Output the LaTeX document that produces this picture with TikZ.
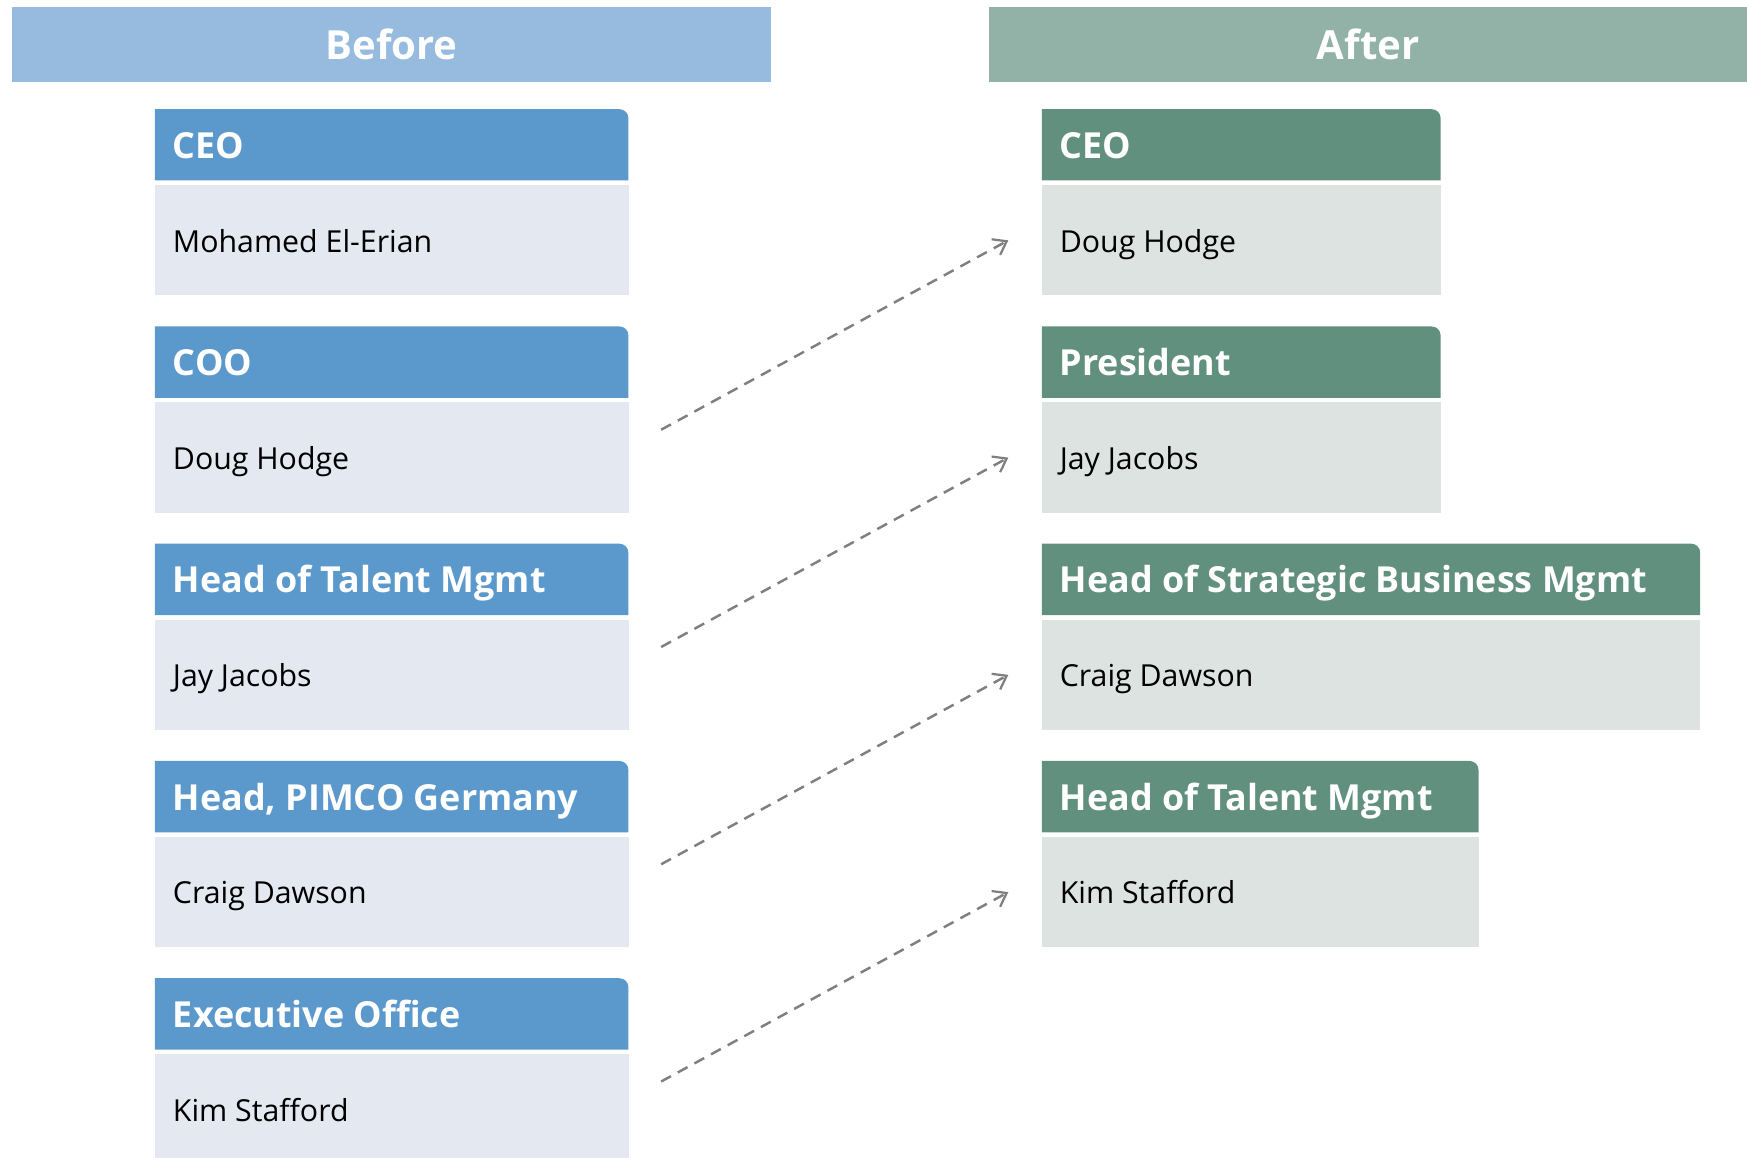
\documentclass[tikz,border=0pt]{standalone}
\usepackage{fontspec}
\setmainfont{Open Sans}
\usetikzlibrary{calc,positioning,arrows.meta}

\definecolor{beforehead}{HTML}{96BBDF}
\definecolor{beforebar}{HTML}{5B98CB}
\definecolor{beforebody}{HTML}{E3E8F1}
\definecolor{afterhead}{HTML}{92B2A7}
\definecolor{afterbar}{HTML}{62907F}
\definecolor{afterbody}{HTML}{DDE3E1}
\definecolor{movegray}{HTML}{7F7F7F}

\tikzset{
  header/.style={minimum height=68pt, inner sep=0pt, text=white,
    font=\fontsize{36}{42}\selectfont\bfseries},
  cardbody/.style={minimum height=99pt, inner sep=0pt},
  roletext/.style={inner sep=0pt, text=white,
    font=\fontsize{32.2}{38}\selectfont\bfseries},
  persontext/.style={inner sep=0pt, font=\fontsize{27.2}{33}\selectfont},
  move/.style={movegray, line width=2.2pt, dash pattern=on 10pt off 7pt,
    -{Straight Barb[length=11pt, width=16pt, line width=2pt]}}
}

% #1 name, #2 left, #3 top, #4 width, #5 colour set, #6 role, #7 person
\newcommand{\OrgCard}[7]{%
  \fill[#5bar] (#2,#3-64) -- (#2,#3) -- (#2+#4-8,#3)
    arc[start angle=90, end angle=0, radius=8] -- (#2+#4,#3-64) -- cycle;
  \node[cardbody, fill=#5body, minimum width=#4pt, anchor=north west]
    (#1) at (#2,#3-68) {};
  \node[roletext, anchor=base west] (#1-role) at (#2+16,#3-44) {#6};
  \node[persontext, anchor=base west] (#1-name)
    at ($(#1.west)+(16,-10.5)$) {#7};
}

\begin{document}
\begin{tikzpicture}[x=1pt, y=1pt]
  \useasboundingbox (0,0) rectangle (1568,-1039);

  \node[header, fill=beforehead, minimum width=681pt] (before) at (351.5,-40) {Before};
  \node[header, fill=afterhead, minimum width=680pt] (after) at (1228,-40) {After};

  % old line-up
  \OrgCard{lceo}{139}{-98}{425}{before}{CEO}{Mohamed El-Erian}
  \OrgCard{lcoo}{139}{-293}{425}{before}{COO}{Doug Hodge}
  \OrgCard{ltalent}{139}{-488}{425}{before}{Head of Talent Mgmt}{Jay Jacobs}
  \OrgCard{lgermany}{139}{-683}{425}{before}{Head, PIMCO Germany}{Craig Dawson}
  \OrgCard{lexec}{139}{-878}{425}{before}{Executive Office}{Kim Stafford}

  % new line-up
  \OrgCard{rceo}{935}{-98}{358}{after}{CEO}{Doug Hodge}
  \OrgCard{rpres}{935}{-293}{358}{after}{President}{Jay Jacobs}
  \OrgCard{rstrat}{935}{-488}{591}{after}{Head of Strategic Business Mgmt}{Craig Dawson}
  \OrgCard{rtalent}{935}{-683}{392}{after}{Head of Talent Mgmt}{Kim Stafford}

  \draw[move] ($(lcoo.east)+(29,25)$) -- ($(rceo.west)+(-30,0)$);
  \draw[move] ($(ltalent.east)+(29,25)$) -- ($(rpres.west)+(-30,0)$);
  \draw[move] ($(lgermany.east)+(29,25)$) -- ($(rstrat.west)+(-30,0)$);
  \draw[move] ($(lexec.east)+(29,25)$) -- ($(rtalent.west)+(-30,0)$);
\end{tikzpicture}
\end{document}
